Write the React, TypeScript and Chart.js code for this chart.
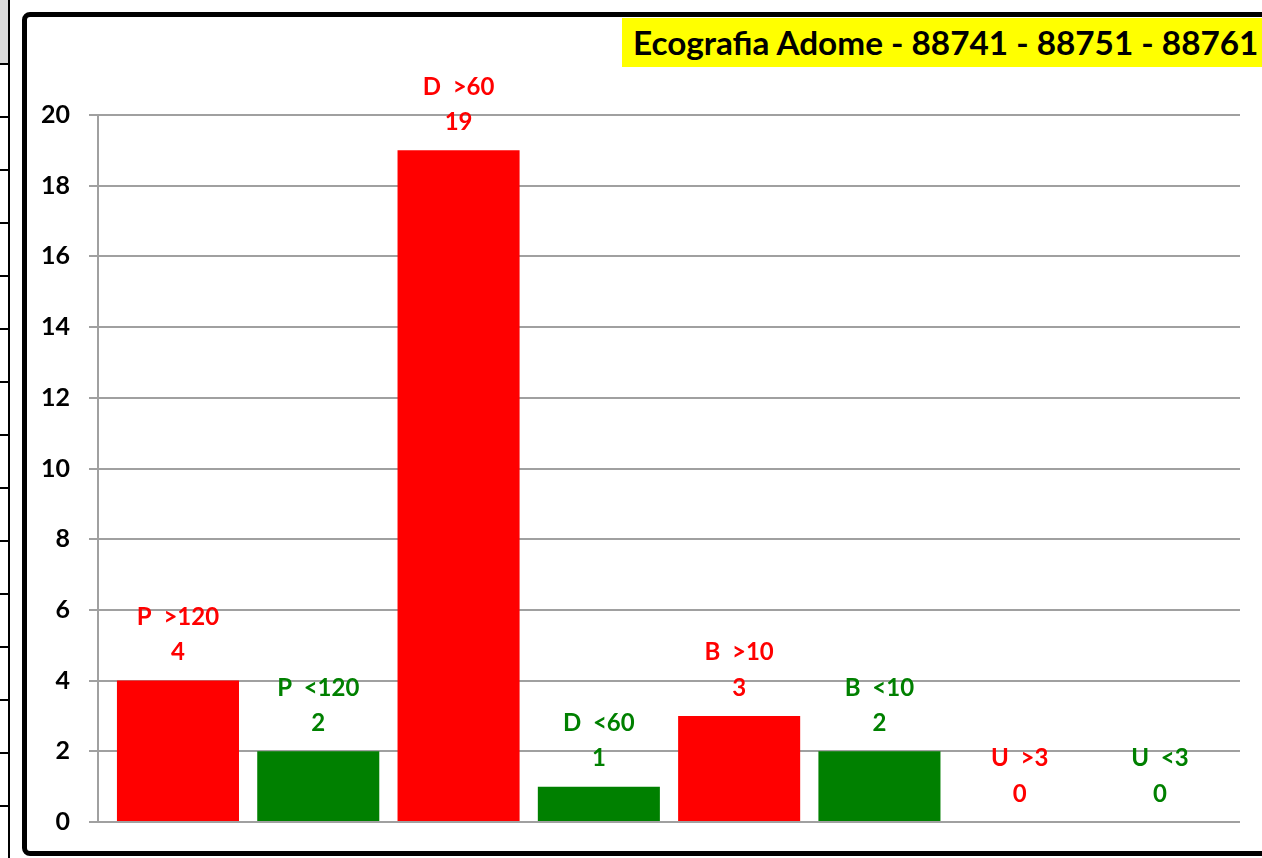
import React, { useEffect, useRef } from "react";
import { Chart, registerables } from "chart.js";

Chart.register(...registerables);

const categories = ["P  >120", "P  <120", "D  >60", "D  <60", "B  >10", "B  <10", "U  >3", "U  <3"];
const values = [4, 2, 19, 1, 3, 2, 0, 0];
const yTicks = [0, 2, 4, 6, 8, 10, 12, 14, 16, 18, 20];
const titleText = "Ecografia Adome - 88741 - 88751 - 88761";

const RED = "#ff0000";
const GREEN = "#008000";
const barColors = categories.map((c) => (c.includes(">") ? RED : GREEN));

const leftLines = Array.from({ length: 15 }, (_, k) => 63 + 53 * k);

const labelPlugin = {
  id: "barLabels",
  afterDatasetsDraw(chart: any) {
    const ctx = chart.ctx;
    const meta = chart.getDatasetMeta(0);
    ctx.save();
    ctx.font = "bold 24px Lato";
    ctx.textAlign = "center";
    ctx.textBaseline = "middle";
    meta.data.forEach((el: any, i: number) => {
      ctx.fillStyle = barColors[i];
      ctx.fillText(categories[i], el.x, el.y - 63.5);
      ctx.fillText(String(values[i]), el.x, el.y - 28);
    });
    ctx.restore();
  },
};

export default function App() {
  const canvasRef = useRef<HTMLCanvasElement>(null);

  useEffect(() => {
    const canvas = canvasRef.current;
    if (!canvas) return;
    const chart = new Chart(canvas, {
      type: "bar",
      data: {
        datasets: [
          {
            data: values.map((v, i) => ({ x: i, y: v })),
            backgroundColor: barColors,
            borderWidth: 0,
            barPercentage: 0.87,
            categoryPercentage: 1,
          },
        ],
      },
      options: {
        responsive: false,
        animation: false,
        devicePixelRatio: 1,
        layout: { padding: { left: 0, right: 22, top: 115, bottom: 36 } },
        plugins: {
          legend: { display: false },
          tooltip: { enabled: false },
          title: { display: false },
        },
        scales: {
          x: {
            type: "linear",
            min: -0.57,
            max: 7.57,
            offset: false,
            display: false,
            afterBuildTicks(scale: any) {
              scale.ticks = categories.map((_, i) => ({ value: i }));
            },
          },
          y: {
            min: 0,
            max: 20,
            afterBuildTicks(scale: any) {
              scale.ticks = yTicks.map((v) => ({ value: v }));
            },
            afterFit(scale: any) {
              scale.width = 98;
            },
            ticks: {
              color: "#000000",
              font: { family: "Lato", weight: "bold", size: 25 },
              padding: 19,
            },
            grid: {
              color: "#a0a0a0",
              lineWidth: 2,
              tickLength: 9,
              drawTicks: true,
            },
            border: { color: "#a0a0a0", width: 2 },
          },
        },
      },
      plugins: [labelPlugin],
    } as any);
    return () => chart.destroy();
  }, []);

  return (
    <div
      style={{
        position: "fixed",
        left: 0,
        top: 0,
        width: 1262,
        height: 858,
        overflow: "hidden",
        background: "#ffffff",
      }}
    >
      {/* left spreadsheet fragment */}
      <div style={{ position: "absolute", left: 0, top: 0, width: 8, height: 63, background: "#d9d9d9" }} />
      <div style={{ position: "absolute", left: 8, top: 0, width: 2, height: 858, background: "#000" }} />
      {leftLines.map((y) => (
        <div key={y} style={{ position: "absolute", left: 0, top: y, width: 8, height: 2, background: "#000" }} />
      ))}
      {/* chart frame */}
      <div
        style={{
          position: "absolute",
          left: 22,
          top: 12,
          width: 1300,
          height: 844,
          border: "5px solid #000",
          borderRadius: 8,
          boxSizing: "border-box",
        }}
      />
      {/* title */}
      <div
        style={{
          position: "absolute",
          left: 622,
          top: 18,
          height: 49,
          lineHeight: "49px",
          paddingLeft: 11,
          paddingRight: 30,
          background: "#ffff00",
          color: "#000",
          fontFamily: "Lato",
          fontWeight: "bold",
          fontSize: 33.3,
          whiteSpace: "nowrap",
        }}
      >
        {titleText}
      </div>
      <canvas
        ref={canvasRef}
        width={1262}
        height={858}
        style={{ position: "absolute", left: 0, top: 0, width: 1262, height: 858 }}
      />
    </div>
  );
}
